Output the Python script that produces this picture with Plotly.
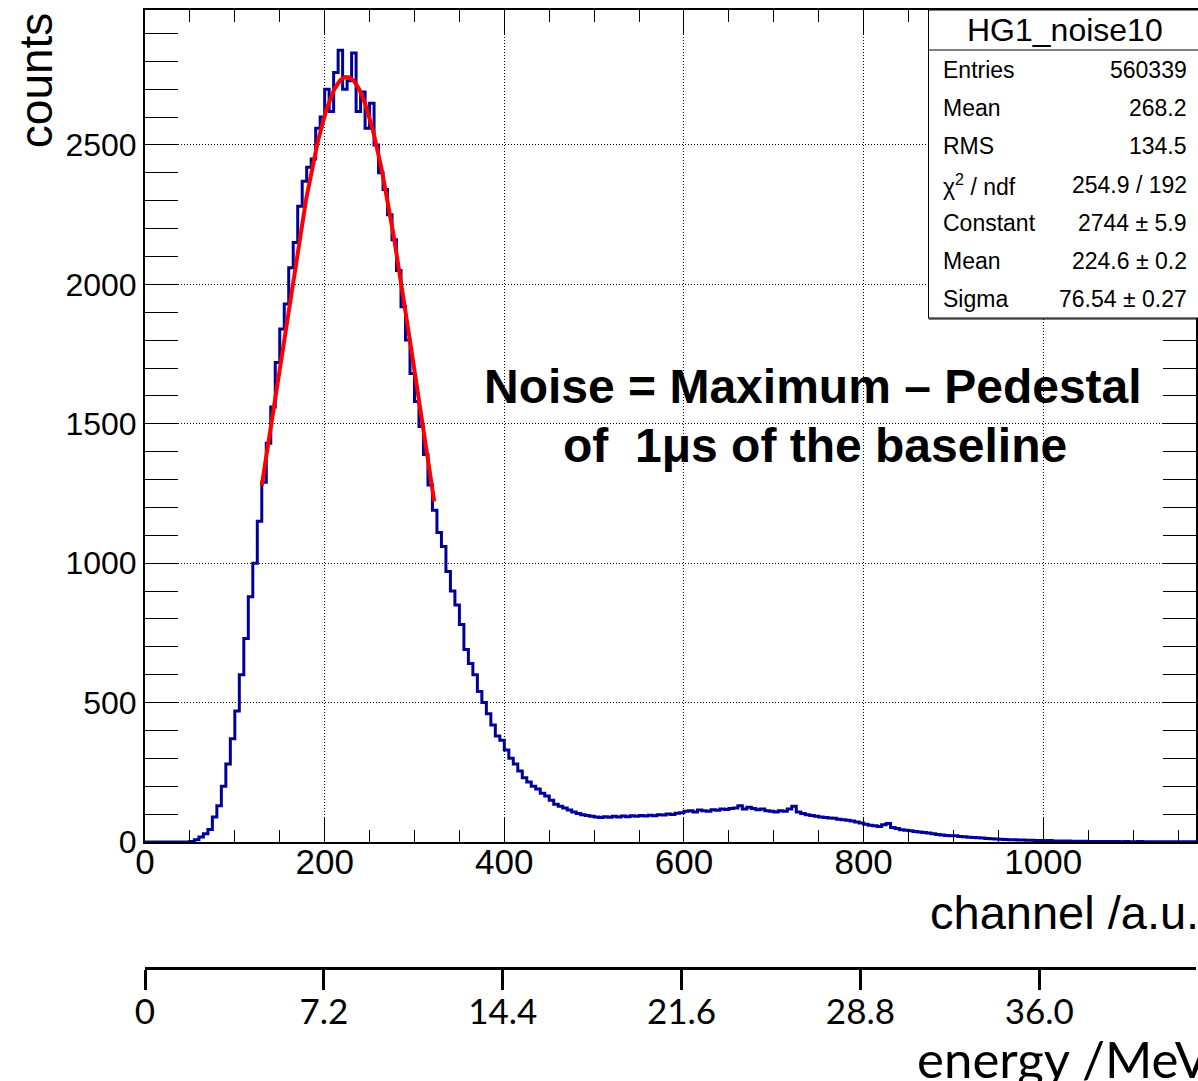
import numpy as np
import plotly.graph_objects as go

# ---- histogram contents (channel bins of width 5, starting at 0) ----
BIN_WIDTH = 5
COUNTS = [
    0, 0, 0, 0, 0, 0, 0, 0, 0, 0,
    2, 8, 18, 30, 45, 90, 130, 200, 280, 370,
    470, 600, 730, 880, 1000, 1150, 1290, 1430, 1560, 1720,
    1840, 1930, 2060, 2150, 2280, 2370, 2420, 2450, 2560, 2600,
    2700, 2620, 2760, 2840, 2700, 2730, 2830, 2620, 2690, 2560,
    2650, 2500, 2400, 2340, 2250, 2160, 2050, 1920, 1800, 1680,
    1580, 1490, 1390, 1280, 1190, 1110, 1060, 970, 900, 850,
    780, 690, 640, 600, 540, 500, 460, 420, 380, 365,
    330, 300, 280, 255, 230, 215, 200, 190, 175, 165,
    150, 135, 128, 122, 115, 108, 102, 98, 95, 92,
    90, 88, 91, 89, 92, 90, 93, 91, 94, 92,
    95, 93, 96, 94, 98, 97, 100, 99, 103, 105,
    110, 112, 108, 115, 112, 110, 116, 114, 118, 117,
    120, 122, 130, 118, 125, 120, 116, 118, 112, 110,
    108, 112, 110, 118, 128, 108, 102, 98, 95, 92,
    90, 88, 86, 85, 82, 80, 78, 75, 72, 68,
    64, 60, 58, 56, 62, 66, 52, 48, 44, 42,
    40, 38, 36, 34, 32, 30, 27, 25, 23, 22,
    22, 20, 19, 17, 16, 15, 14, 13, 12, 11,
    10, 9, 8, 8, 7, 7, 6, 6, 5, 5,
    5, 5, 4, 4, 4, 4, 3, 3, 3, 3,
    2, 2, 2, 2, 2, 2, 2, 1, 2, 1,
    1, 2, 1, 1, 1, 1, 1, 1, 1, 1, 1, 1, 1, 1,
]

# ---- Gaussian fit result ----
FIT_CONSTANT = 2744
FIT_MEAN = 224.6
FIT_SIGMA = 76.54
FIT_RANGE = (130, 322)

# ---- statistics box ----
STAT_TITLE = "HG1_noise10"
STAT_LABELS = ["Entries", "Mean", "RMS", "χ<sup>2</sup> / ndf", "Constant", "Mean", "Sigma"]
STAT_VALUES = ["560339", "268.2", "134.5", "254.9 / 192", "2744 ± 5.9", "224.6 ± 0.2", "76.54 ± 0.27"]

# ---- axes ----
CHANNEL_RANGE = (0, 1170)
COUNT_RANGE = (0, 2984)
CHANNEL_TICKS = [0, 200, 400, 600, 800, 1000]
COUNT_TICKS = [0, 500, 1000, 1500, 2000, 2500]
ENERGY_TICKS = [0, 7.2, 14.4, 21.6, 28.8, 36.0]
ENERGY_LABELS = ["0", "7.2", "14.4", "21.6", "28.8", "36.0"]
MEV_PER_CHANNEL = 0.03616

# ---- page geometry (pixels) ----
W, H = 1198, 1081
ML, MR, MT, MB = 145, 0, 10, 113
PLOT_W = W - ML - MR
PLOT_H = H - MT - MB
AXIS_Y = 842  # pixel row of the channel axis


def px_x(px):
    return (px - ML) / PLOT_W


def px_y(py):
    return (H - MB - py) / PLOT_H


HELV = "Liberation Sans, Arial, Helvetica, sans-serif"
SLIDE = "Lato, Open Sans, sans-serif"

edges = [i * BIN_WIDTH for i in range(len(COUNTS) + 1)]
step_y = COUNTS + [COUNTS[-1]]

fit_x = np.linspace(FIT_RANGE[0], FIT_RANGE[1], 200)
fit_y = FIT_CONSTANT * np.exp(-0.5 * ((fit_x - FIT_MEAN) / FIT_SIGMA) ** 2)

fig = go.Figure()
fig.add_trace(go.Scatter(
    x=edges, y=step_y, mode="lines", line=dict(color="#000099", width=3, shape="hv"),
    hoverinfo="skip", showlegend=False,
))
fig.add_trace(go.Scatter(
    x=fit_x, y=fit_y, mode="lines", line=dict(color="#ff0000", width=4),
    hoverinfo="skip", showlegend=False,
))
# carrier trace for the energy scale
fig.add_trace(go.Scatter(
    x=ENERGY_TICKS, y=[0] * len(ENERGY_TICKS), xaxis="x2", yaxis="y",
    mode="markers", marker=dict(opacity=0), hoverinfo="skip", showlegend=False,
))

y_bottom = (H - MB - AXIS_Y) / PLOT_H
grid_dash = "1px,2px"

fig.update_layout(
    width=W, height=H,
    margin=dict(l=ML, r=MR, t=MT, b=MB, pad=0),
    paper_bgcolor="white", plot_bgcolor="white",
    xaxis=dict(
        range=list(CHANNEL_RANGE), anchor="y",
        tickmode="array", tickvals=CHANNEL_TICKS,
        ticks="inside", ticklen=24, tickwidth=1, tickcolor="black",
        minor=dict(dtick=50, tick0=0, ticks="inside", ticklen=12, tickcolor="black", tickwidth=1),
        showgrid=True, gridcolor="black", gridwidth=1, griddash=grid_dash,
        showline=True, linecolor="black", linewidth=2, mirror="allticks",
        zeroline=False,
        tickfont=dict(family=HELV, size=35, color="black"),
        ticklabelstandoff=-12,
    ),
    yaxis=dict(
        domain=[y_bottom, 1], range=list(COUNT_RANGE),
        tickmode="array", tickvals=COUNT_TICKS,
        ticks="inside", ticklen=33, tickwidth=1, tickcolor="black",
        minor=dict(dtick=100, tick0=0, ticks="inside", ticklen=17, tickcolor="black", tickwidth=1),
        showgrid=True, gridcolor="black", gridwidth=1, griddash=grid_dash,
        showline=True, linecolor="black", linewidth=2, mirror="allticks",
        zeroline=False,
        tickfont=dict(family=HELV, size=32, color="black"),
        ticklabelstandoff=0,
    ),
    xaxis2=dict(
        overlaying="x", anchor="free", position=0, side="bottom",
        range=[0, CHANNEL_RANGE[1] * MEV_PER_CHANNEL],
        tickmode="array", tickvals=ENERGY_TICKS, ticktext=ENERGY_LABELS,
        ticks="outside", ticklen=20, tickwidth=3, tickcolor="black",
        showgrid=False, zeroline=False,
        showline=True, linecolor="black", linewidth=3,
        tickfont=dict(family=SLIDE, size=35, color="black"),
        ticklabelstandoff=-8,
    ),
)

ann = []
# axis titles
ann.append(dict(text="counts", textangle=-90, x=px_x(36), y=px_y(10), xanchor="center", yanchor="top",
                font=dict(family=HELV, size=46, color="black")))
ann.append(dict(text="channel /a.u.", x=px_x(1203), y=px_y(912), xanchor="right", yanchor="middle",
                font=dict(family=HELV, size=47, color="black")))
ann.append(dict(text="energy /MeV", x=px_x(916), y=px_y(1058), xanchor="left", yanchor="middle",
                font=dict(family=SLIDE, size=51, color="black")))

# annotation text in the plot
ann.append(dict(text="<b>Noise = Maximum – Pedestal</b>", x=px_x(814), y=px_y(387), xanchor="center",
                yanchor="middle", font=dict(family=HELV, size=48, color="black")))
ann.append(dict(text="<b>of  1μs of the baseline</b>", x=px_x(816), y=px_y(445), xanchor="center",
                yanchor="middle", font=dict(family=HELV, size=48, color="black")))

# statistics box
BOX_L, BOX_T, BOX_B, BOX_SEP = 930, 10, 318, 50
ROW0, ROW_STEP = 70, 38.2
ann.append(dict(text=STAT_TITLE, x=px_x(1067), y=px_y(30), xanchor="center", yanchor="middle",
                font=dict(family=HELV, size=32, color="black")))
for i, (lab, val) in enumerate(zip(STAT_LABELS, STAT_VALUES)):
    yy = px_y(ROW0 + i * ROW_STEP)
    ann.append(dict(text=lab, x=px_x(943), y=yy, xanchor="left", yanchor="middle",
                    font=dict(family=HELV, size=23, color="black")))
    ann.append(dict(text=val, x=px_x(1191), y=yy, xanchor="right", yanchor="middle",
                    font=dict(family=HELV, size=23, color="black")))

for a in ann:
    a.update(xref="paper", yref="paper", showarrow=False)
fig.update_layout(annotations=ann)

fig.update_layout(shapes=[
    dict(type="rect", xref="paper", yref="paper",
         x0=px_x(BOX_L), x1=px_x(1210), y0=px_y(BOX_B), y1=px_y(BOX_T),
         fillcolor="white", line=dict(color="black", width=1)),
    dict(type="line", xref="paper", yref="paper",
         x0=px_x(BOX_L), x1=px_x(1210), y0=px_y(BOX_B + 1), y1=px_y(BOX_B + 1),
         line=dict(color="black", width=1)),
    dict(type="line", xref="paper", yref="paper",
         x0=px_x(BOX_L), x1=px_x(1210), y0=px_y(BOX_SEP), y1=px_y(BOX_SEP),
         line=dict(color="black", width=1)),
])

fig.write_html("out.html")
